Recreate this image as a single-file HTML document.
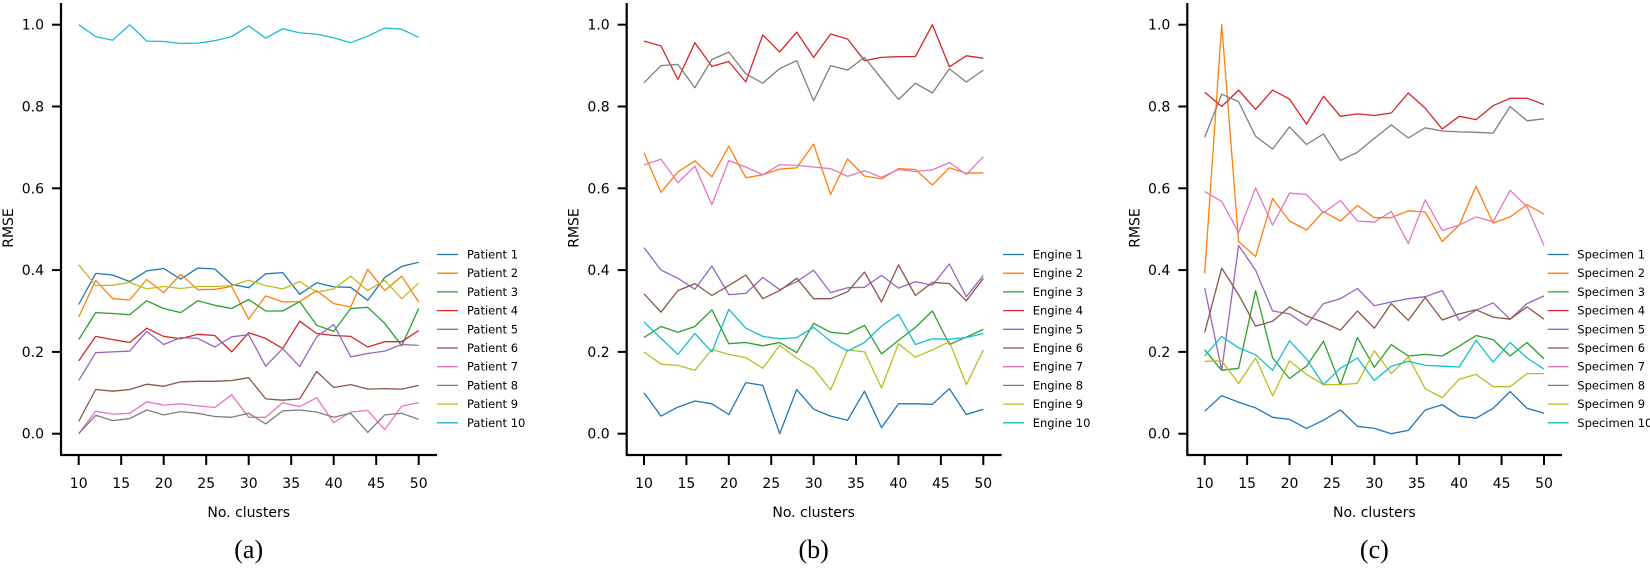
<!DOCTYPE html>
<html><head><meta charset="utf-8"><style>
html,body{margin:0;padding:0;background:#fff;}
svg text{font-family:"DejaVu Sans","Liberation Sans",sans-serif;fill:#000;}
</style></head><body>
<svg id="s" width="1650" height="567" xmlns="http://www.w3.org/2000/svg"></svg>
<script>
const C=['#1f77b4','#ff7f0e','#2ca02c','#d62728','#9467bd','#8c564b','#e377c2','#7f7f7f','#bcbd22','#17becf'];
const A=[
[0.316,0.392,0.388,0.372,0.398,0.404,0.378,0.405,0.403,0.365,0.357,0.391,0.394,0.341,0.369,0.359,0.358,0.326,0.382,0.409,0.419],
[0.285,0.375,0.33,0.327,0.377,0.345,0.39,0.352,0.353,0.36,0.28,0.337,0.322,0.323,0.35,0.318,0.31,0.402,0.35,0.385,0.322],
[0.23,0.296,0.294,0.291,0.325,0.306,0.296,0.325,0.314,0.306,0.328,0.3,0.3,0.323,0.265,0.25,0.306,0.309,0.27,0.215,0.306],
[0.178,0.238,0.23,0.223,0.258,0.238,0.232,0.243,0.24,0.2,0.247,0.233,0.208,0.275,0.245,0.24,0.238,0.212,0.225,0.225,0.252],
[0.13,0.198,0.2,0.202,0.25,0.218,0.235,0.233,0.212,0.237,0.242,0.165,0.208,0.164,0.237,0.267,0.188,0.196,0.202,0.218,0.216],
[0.03,0.108,0.104,0.108,0.121,0.116,0.127,0.128,0.128,0.13,0.137,0.085,0.082,0.085,0.152,0.113,0.12,0.109,0.11,0.109,0.118],
[0,0.055,0.048,0.05,0.078,0.07,0.073,0.068,0.064,0.095,0.04,0.04,0.076,0.066,0.088,0.027,0.053,0.057,0.01,0.067,0.076],
[0,0.045,0.032,0.037,0.058,0.046,0.054,0.05,0.042,0.04,0.05,0.024,0.056,0.058,0.053,0.04,0.05,0.003,0.046,0.05,0.035],
[0.413,0.362,0.363,0.37,0.354,0.36,0.355,0.36,0.36,0.362,0.375,0.362,0.354,0.372,0.346,0.354,0.385,0.35,0.375,0.33,0.368],
[1.0,0.971,0.962,1.0,0.96,0.959,0.954,0.955,0.961,0.971,0.997,0.967,0.99,0.98,0.977,0.968,0.956,0.972,0.992,0.989,0.969]];
const B=[
[0.1,0.043,0.065,0.08,0.073,0.047,0.125,0.118,0,0.108,0.06,0.043,0.033,0.104,0.015,0.073,0.073,0.072,0.11,0.047,0.06],
[0.687,0.59,0.64,0.667,0.628,0.703,0.626,0.633,0.647,0.65,0.708,0.585,0.672,0.63,0.623,0.648,0.646,0.608,0.65,0.637,0.638],
[0.235,0.262,0.248,0.262,0.303,0.22,0.223,0.215,0.223,0.198,0.27,0.248,0.244,0.265,0.195,0.228,0.26,0.3,0.218,0.236,0.255],
[0.96,0.948,0.866,0.956,0.898,0.91,0.86,0.975,0.933,0.982,0.92,0.977,0.965,0.912,0.92,0.922,0.922,1.0,0.897,0.924,0.918],
[0.455,0.4,0.38,0.353,0.41,0.34,0.343,0.382,0.352,0.372,0.4,0.345,0.357,0.358,0.387,0.356,0.372,0.363,0.415,0.335,0.387],
[0.342,0.297,0.35,0.367,0.338,0.362,0.388,0.33,0.35,0.38,0.33,0.33,0.347,0.395,0.322,0.413,0.338,0.37,0.367,0.325,0.38],
[0.657,0.671,0.614,0.654,0.56,0.668,0.652,0.633,0.658,0.656,0.652,0.648,0.629,0.643,0.627,0.646,0.641,0.645,0.663,0.634,0.677],
[0.858,0.9,0.903,0.846,0.915,0.933,0.88,0.857,0.893,0.912,0.814,0.9,0.889,0.92,0.868,0.817,0.857,0.833,0.892,0.86,0.889],
[0.2,0.17,0.167,0.155,0.206,0.194,0.186,0.16,0.216,0.185,0.16,0.107,0.205,0.2,0.112,0.22,0.187,0.205,0.225,0.12,0.205],
[0.273,0.233,0.194,0.245,0.2,0.304,0.258,0.238,0.232,0.235,0.26,0.226,0.202,0.223,0.263,0.292,0.218,0.232,0.231,0.235,0.245]];
const D=[
[0.055,0.093,0.077,0.063,0.04,0.035,0.013,0.033,0.058,0.018,0.013,0,0.008,0.058,0.071,0.043,0.038,0.062,0.103,0.062,0.05],
[0.392,1.0,0.47,0.433,0.575,0.52,0.498,0.543,0.52,0.558,0.528,0.528,0.545,0.542,0.47,0.51,0.605,0.515,0.53,0.56,0.537],
[0.205,0.155,0.16,0.35,0.185,0.135,0.165,0.226,0.12,0.235,0.162,0.218,0.19,0.194,0.19,0.214,0.24,0.23,0.19,0.223,0.183],
[0.835,0.8,0.84,0.793,0.84,0.818,0.757,0.825,0.776,0.782,0.778,0.784,0.833,0.796,0.745,0.776,0.768,0.802,0.82,0.82,0.805],
[0.356,0.155,0.46,0.4,0.3,0.293,0.265,0.318,0.33,0.355,0.313,0.322,0.33,0.335,0.35,0.277,0.302,0.32,0.28,0.318,0.337],
[0.248,0.405,0.34,0.263,0.275,0.31,0.288,0.272,0.253,0.3,0.258,0.318,0.277,0.333,0.278,0.293,0.303,0.285,0.28,0.31,0.28],
[0.592,0.568,0.492,0.601,0.51,0.588,0.585,0.54,0.57,0.52,0.517,0.543,0.465,0.572,0.497,0.51,0.53,0.518,0.595,0.555,0.46],
[0.725,0.83,0.812,0.727,0.696,0.75,0.707,0.733,0.668,0.688,0.722,0.755,0.723,0.748,0.74,0.738,0.737,0.735,0.8,0.765,0.77],
[0.177,0.178,0.123,0.185,0.093,0.178,0.145,0.12,0.12,0.123,0.203,0.147,0.188,0.11,0.088,0.133,0.145,0.115,0.115,0.147,0.147],
[0.19,0.238,0.21,0.193,0.155,0.227,0.183,0.12,0.16,0.185,0.13,0.165,0.177,0.167,0.165,0.163,0.228,0.175,0.223,0.185,0.158]];
const P=[
{sp:61,x0:78.7,x1:418.7,end:437,lx:437,tx:467,d:A,n:'Patient',lab:'(a)'},
{sp:626.7,x0:644,x1:983.3,end:1001.7,lx:1003,tx:1032.7,d:B,n:'Engine',lab:'(b)'},
{sp:1187.3,x0:1204.7,x1:1544,end:1562,lx:1547.7,tx:1577.3,d:D,n:'Specimen',lab:'(c)'}];
const Y=v=>433.7-409*v;
let h='';
for(const p of P){
  const X=k=>p.x0+(k-10)*(p.x1-p.x0)/40;
  p.d.forEach((s,i)=>{
    h+=`<polyline fill="none" stroke="${C[i]}" stroke-width="1.3" stroke-linejoin="round" points="${s.map((v,j)=>X(10+2*j).toFixed(1)+','+Y(v).toFixed(1)).join(' ')}"/>`;
  });
  h+=`<line x1="${p.sp}" y1="3" x2="${p.sp}" y2="455" stroke="#000" stroke-width="2.2"/>`;
  h+=`<line x1="${p.sp-1}" y1="455" x2="${p.end}" y2="455" stroke="#000" stroke-width="2.2"/>`;
  for(let t=0;t<=5;t++){const y=Y(t*0.2);
    h+=`<line x1="${p.sp-9}" y1="${y}" x2="${p.sp}" y2="${y}" stroke="#000" stroke-width="2"/>`;
    h+=`<text x="${p.sp-17}" y="${y+5}" font-size="14" text-anchor="end">${(t*0.2).toFixed(1)}</text>`;}
  for(let k=10;k<=50;k+=5){const x=X(k);
    h+=`<line x1="${x}" y1="455" x2="${x}" y2="465" stroke="#000" stroke-width="2"/>`;
    h+=`<text x="${x}" y="488" font-size="14" text-anchor="middle">${k}</text>`;}
  const cx=(p.x0+p.x1)/2;
  h+=`<text x="${cx}" y="517" font-size="14" text-anchor="middle">No. clusters</text>`;
  h+=`<text x="${cx}" y="558" font-size="26" text-anchor="middle" style="font-family:'Liberation Serif',serif">${p.lab}</text>`;
  h+=`<text transform="translate(${p.sp-48},228) rotate(-90)" font-size="14" text-anchor="middle">RMSE</text>`;
  for(let i=0;i<10;i++){const y=254.5+i*18.7;
    h+=`<line x1="${p.lx}" y1="${y}" x2="${p.lx+21}" y2="${y}" stroke="${C[i]}" stroke-width="1.3"/>`;
    h+=`<text x="${p.tx}" y="${y+4}" font-size="11.5">${p.n} ${i+1}</text>`;}
}
document.getElementById('s').innerHTML=h;
</script>
</body></html>
